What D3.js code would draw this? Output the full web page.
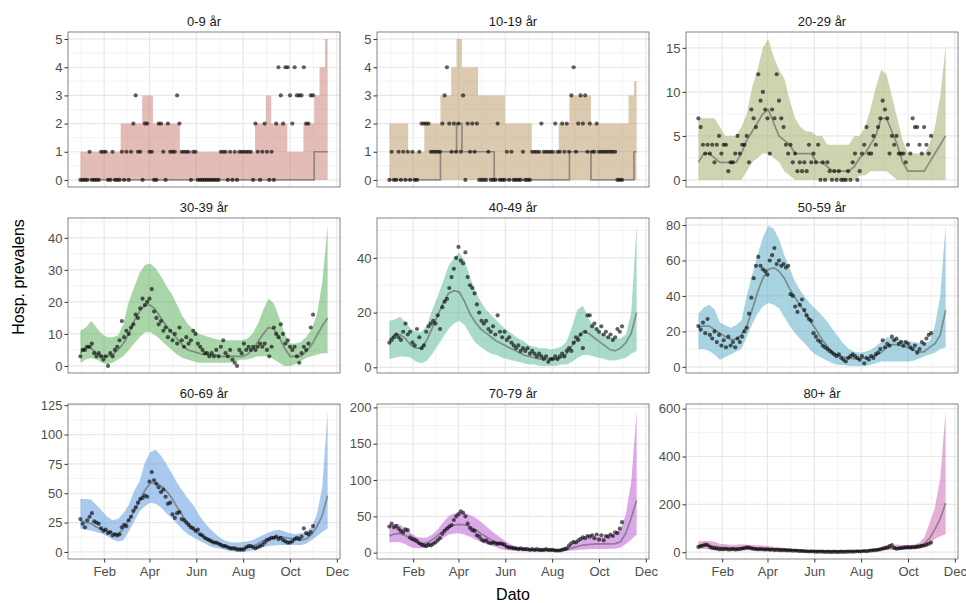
<!DOCTYPE html>
<html>
<head>
<meta charset="utf-8">
<script src="https://cdn.jsdelivr.net/npm/d3@7"></script>
<style>
  body { margin: 0; background: #fff; }
  text { font-family: "Liberation Sans", Arial, sans-serif; }
</style>
</head>
<body>
<div id="chart"></div>
<script>
// ---------- data ----------
var panelLabels = ["0-9 år", "10-19 år", "20-29 år", "30-39 år", "40-49 år", "50-59 år", "60-69 år", "70-79 år", "80+ år"];
var yTickValues = [[0, 1, 2, 3, 4, 5], [0, 1, 2, 3, 4, 5], [0, 5, 10, 15], [0, 10, 20, 30, 40], [0, 20, 40],
                   [0, 20, 40, 60, 80], [0, 25, 50, 75, 100, 125], [0, 50, 100, 150, 200], [0, 200, 400, 600]];
var xTickDates = ["2021-02-01", "2021-04-01", "2021-06-01", "2021-08-01", "2021-10-01", "2021-12-01"];
var xTickLabels = ["Feb", "Apr", "Jun", "Aug", "Oct", "Dec"];

// observed points: every 3rd day from pointStart
var pointStart = "2021-01-01", pointStepDays = 3;
// band (lower/upper) and median: weekly from bandStart
var bandStart = "2021-01-01", bandStepDays = 7;

var obs0 = [0,0,0,0,1,0,0,0,0,1, 1,1,0,0,1,0,0,0,1,0, 1,0,1,2,3,1,1,0,2,2, 1,1,0,0,2,2,1,0,2,1,
            1,1,3,2,1,1,1,1,0,1, 1,0,0,0,0,0,0,0,0,0, 0,1,1,1,0,1,0,1,0,1, 1,1,1,1,1,0,2,1,0,1,
            2,1,0,1,0,2,4,3,2,4, 4,3,2,4,3,3,3,4,2,2, 3,3];
var lo0  = [0,0,0,0,0,0,0,0,0,0, 0,0,0,0,0,0,0,0,0,0, 0,0,0,0,0,0,0,0,0,0, 0,0,0,0,0,0,0,0,0,0, 0,0,0,0,0,0,0];
var hi0  = [1,1,1,1,1,1,1,1,2,2, 2,2,3,3,2,2,2,2,2,1, 1,1,1,1,1,1,1,1,1,1, 1,1,1,2,2,3,2,2,2,1, 1,1,2,2,3,4,5];
var med0 = [0,0,0,0,0,0,0,0,0,0, 0,0,0,0,0,0,0,0,0,0, 0,0,0,0,0,0,0,0,0,0, 0,0,0,0,0,0,0,0,0,0, 0,0,0,0,1,1,1];

var obs1 = [0,1,0,0,1,0,1,0,1,0, 1,0,0,1,2,2,2,2,1,1, 1,1,1,2,3,4,2,1,2,1, 2,1,3,0,2,1,2,1,2,0,
            0,0,0,1,0,0,0,2,0,0, 0,1,0,1,0,0,0,0,1,0, 0,0,1,1,1,1,2,1,1,1, 1,1,2,1,1,2,1,2,1,3,
            4,1,2,3,2,3,1,2,1,1, 2,1,1,1,1,1,1,1,1,0, 0,0];
var lo1  = [0,0,0,0,0,0,0,0,0,0, 0,0,0,0,0,0,0,0,0,0, 0,0,0,0,0,0,0,0,0,0, 0,0,0,0,0,0,0,0,0,0, 0,0,0,0,0,0,0];
var hi1  = [2,2,2,2,1,1,1,2,2,2, 3,3,4,5,4,4,4,3,3,3, 3,3,2,2,2,2,2,1,1,1, 1,1,2,2,3,3,3,3,2,2, 2,2,2,2,2,3,3.5];
var med1 = [0,0,0,0,0,0,0,0,0,0, 1,1,1,2,1,1,1,1,1,1, 0,0,0,0,0,0,0,0,0,0, 0,0,0,0,1,1,1,1,0,0, 0,0,0,0,0,0,1];

var obs2 = [7,6,4,3,4,3,4,2,4,5, 3,4,4,1,2,2,3,5,3,4, 4,5,2,8,7,6,12,9,10,8, 7,3,8,7,12,9,7,6,4,3,
            4,2,3,1,2,1,2,1,4,2, 3,2,4,0,2,0,2,1,0,1, 0,1,0,0,0,1,0,2,3,0, 1,3,4,6,3,3,5,4,6,7,
            9,8,7,3,5,4,5,3,3,3, 2,4,3,7,6,6,4,3,6,4, 3,5];
var lo2  = [0,0,0,0,0,0,0,0,0,1, 2,2.5,3,3,2.5,2,1,0.5,0,0, 0,0,0,0,0,0,0,0,0,0, 0.5,0.5,1,1,1,1,0.5,0,0,0, 0,0,0,0,0,0,0];
var hi2  = [7,7,7,7,6,5,5,5,6,7.5, 10.5,12.5,15,16,14,12.5,11.5,9,7,6, 5.5,5.5,5,5,4,4,4,4,4,5, 5,6,8,10.5,12.5,12,9.5,7,4.5,3, 3,3,3,4,6,9.5,15.3];
var med2 = [2,3,3,2.5,2,2,2,2,3,4.5, 5.5,6.5,7.5,8,6.5,5,4.5,4,3,3, 3,3,2,2,1.5,1,1,1,1,1.5, 2.5,3,4,5,7,7,5.5,4,2,1, 1,1,1,2,3,4,5];

var obs3 = [3,5,5,6,6,7,4,3,4,3, 2,3,0,4,3,5,6,8,14,9, 11,10,12,13,16,15,18,21,19,20, 21,24,17,15,13,14,11,12,9,11,
            8,10,7,12,8,6,9,7,8,11, 10,7,6,5,4,4,3,4,3,5, 3,6,8,4,3,5,2,1,0,5, 4,7,5,6,5,6,5,6,7,6,
            7,5,3,6,12,10,9,13,10,7, 8,6,5,6,3,1,4,6,5,7, 12,16];
var lo3  = [1,2,2.5,2,1,0.5,1,2,3,5, 7,9,10.5,10.5,9.5,8,6.5,5,3.5,2.5, 2,1.5,1,1,1,1,1,1,1,1.5, 2,2,2.5,3,3,3,2,1,0,0, 0.5,1.5,2.5,3,3.5,4,4];
var hi3  = [11,12,14,12,10,9,9,9.5,13,20, 24.5,29,31.5,32,30.5,28,25,22.5,19,15.5, 13,11.5,10,9.5,9,8.5,8,8,8,8, 8,8.5,10,13,17.5,21,19.5,15,10,7, 7,7.5,9,11.5,16,26,44];
var med3 = [4,6,5.5,4,3,3,3.5,5,7,10, 14,17,19,19,17.5,15,12.5,10.5,8.5,6.5, 5,4.5,4,3.5,3.5,3.5,3,3,3,3, 3,3.5,5,7.5,10,12,11.5,9,5.5,3, 3,3,4.5,6.5,9.5,12.5,15];

var obs4 = [9,10,11,12,11,10,13,16,12,13, 9,8,14,11,7,8,13,15,16,17, 16,19,14,22,24,25,29,33,36,40, 44,39,38,42,33,30,29,27,23,20,
            17,16,17,14,13,15,12,19,13,11, 13,10,11,9,8,7,8,6,7,6, 7,5,6,5,4,5,4,3,4,2, 3,3,4,3,4,5,4,6,7,6,
            9,11,10,12,7,13,19,19,15,16, 14,13,15,12,13,11,12,10,11,14, 13,15];
var lo4  = [3,3.5,4,4,3.5,2,1.5,2.5,5,8, 11,14,16,17,15.5,12,9,7.5,6,5, 4.5,3.5,3,2.5,2,1.5,1,1,0.5,0.5, 0.5,0.5,1,1,2,3.5,4.5,4.5,4,3.5, 3,2.5,2.5,3,3.5,5,6];
var hi4  = [17,17.5,18.5,16.5,14,13,13,15.5,21,26, 31.5,37,40,42,39,33,28,24,21,19, 17,15,13.5,12,10.5,9.5,8,7.5,7,7, 6.5,7,7.5,9.5,15,21,22.5,18,15,13, 12,11,10.5,10.5,12,20,52];
var med4 = [10,12,12,10.5,8,7,7,10,14.5,19, 23.5,27,28,27.5,24,19.5,16.5,14,12.5,11, 9.5,8.5,7.5,6.5,5.5,4.5,4,3.5,3,3, 3,3,3.5,5,8,10.5,13,12.5,11,9.5, 8,6.5,6,7,9,12.5,20];

var obs5 = [23,21,25,19,27,18,16,20,14,18, 12,15,11,17,12,14,11,16,14,17, 20,22,30,39,50,57,62,57,55,54, 52,60,63,67,58,60,57,58,56,57,
            41,40,34,31,35,38,32,29,27,26, 19,17,15,14,12,11,10,9,8,7, 6,7,5,4,3,5,6,7,6,5, 4,6,2,5,4,6,5,7,8,10,
            15,11,13,12,17,15,16,13,14,12, 14,13,11,10,12,8,10,14,13,16, 18,19];
var lo5  = [10,10,9,7,4,5.5,7,8.5,10,17, 24,30,34,36,35,33,28,23,19,15.5, 12.5,9,6.5,5,3.5,2,1,1,0.5,0.5, 0.5,0.5,1,2,3,3,3,3,3,3, 3.5,4.5,6,7,8,10,11];
var hi5  = [30,33.5,35,32.5,25,23.5,22,23.5,26,40, 52,63,73,79.5,78,72,63,55.5,48,43, 38.5,35,32,29,25.5,21,17,13,10,8.5, 8,8.5,9.5,11.5,14,16.5,16.5,15.5,15,14.5, 14,13.5,13,14.5,23,40,80];
var med5 = [22.5,23,23,21,19,17,15.5,15.5,18,23, 32,42,50,55,56,54,50,44,39,34.5, 30,25,20.5,15.5,11.5,8,6.5,5.5,5,4.5, 4.5,5,5.5,6.5,8,11,12.5,12.5,11.5,11, 9.5,8.5,8.5,11,13,18,32];

var obs6 = [28,24,21,27,30,33,26,25,24,20, 18,19,16,17,14,15,14,15,21,23, 22,27,30,35,38,42,45,46,48,47, 60,68,61,58,55,51,53,47,41,42,
            32,29,33,34,28,27,25,23,21,20, 18,19,15,14,12,11,10,9,8,8, 7,6,5,5,4,3,3,3,2,2, 2,2,4,5,5,4,3,4,5,6,
            8,10,11,12,12,13,11,12,10,9, 8,8,9,11,12,11,13,20,16,15, 17,22];
var lo6  = [20,19,18.3,17,15.4,13.5,10.3,9,10,17.5, 26,34.5,39,42,41,38,33,29,24,19, 15,12.5,10,7.7,5,3.5,3,1.5,0.8,0.3, 0,0.5,1,2.5,4,5,5.5,6,6,6, 6,6,7,10,13.5,17,20];
var hi6  = [45,45,44.5,40,35,30,27,28,33,40, 52,60,76,85,87,82,75,67,59,52, 45.5,40,32,25.5,20.5,16,12,9.5,8.3,8, 8.3,9,10,12,14.5,16.5,18,19,17.5,16, 15.3,16,17,21,32,55,120];
var med6 = [27,25.2,24.2,21,19.5,17.7,16.1,15.2,19.5,27.5, 34.5,44,52.5,58.5,58.5,56.5,52,46,38,31, 24.5,19.5,15.5,12.5,9.7,8,7,5,4,3.3, 3,3.8,4.9,6.8,9.5,11.3,12,13,12.3,11.5, 10.7,10,11,15,21.5,31,48];

var obs7 = [36,40,35,37,33,30,28,32,31,21, 19,18,16,13,11,10,9,11,10,12, 14,17,20,26,30,33,36,38,45,50, 53,57,55,50,40,34,31,30,24,22,
            18,16,17,14,13,14,13,12,13,12, 11,8,7,7,6,6,5,6,5,5, 5,4,5,4,5,4,4,4,5,4, 4,4,3,3,3,4,5,6,10,13,
            15,14,17,19,21,20,23,22,24,20, 25,18,24,17,23,22,25,23,28,27, 33,42];
var lo7  = [14,14.8,14.3,11.5,7.5,6,6,7,11,16.5, 20,25,26.5,26.7,25.2,22,18.3,15,12,9.5, 7,4.5,3.5,2.5,2,1.7,1.2,1,1,1, 1,1.2,1.6,2,3,3.7,4.3,4.6,5,5, 5,5.3,5.5,7,12,18,25];
var hi7  = [38,39.5,38.5,33,27,22,20.5,21,25,32, 42,50,54,55,54.5,52,48,42.5,36.5,30, 24.5,19,14,10,7.5,6,5,5,5,5, 5,5,5.7,8,11.7,15.6,19,20.5,21.5,22, 22,23,27,32,53,98,195];
var med7 = [23,26,26.5,23.5,18,14,12.3,13.5,18,23.5, 30,34.5,38,39,38.5,36,32,26.5,22,17.5, 14,11,8,6,5.2,4.5,3.7,3.3,3.2,3, 3,3,3.3,4,6.7,8.5,10.5,11.2,11.7,12, 12,12,12.5,15,27,48,72];

var obs8 = [22,25,28,32,30,22,18,16,15,12, 13,12,14,11,12,13,11,12,13,15, 17,20,19,16,14,13,12,13,12,11, 12,10,11,9,10,9,8,9,8,7,
            8,6,7,6,5,5,4,4,3,4, 3,2,2,3,2,1,2,1,1,2, 1,1,2,1,2,2,3,2,3,4, 3,4,5,4,6,7,8,9,10,12,
            15,18,20,25,30,18,14,16,17,19, 20,21,20,22,21,23,24,26,28,31, 35,40];
var lo8  = [15,13.5,12,10.5,9.5,8.8,8.2,8,8,8, 7.8,7.2,6.8,6.3,5.8,5.4,5,4.4,3.9,3.3, 2.8,2.3,2,2,2,2,2,2,2,2.7, 3.8,4.8,5.8,6.9,7.8,8.4,9,9.5,10,10.7, 11.5,13,20,35,55,67,75];
var hi8  = [45,47,47,44,35,33,31,31,33,31, 30,29,28,26,23,21,18,15,13,11, 9.5,8.2,7,6.6,6.2,6,6,6,6.5,6.8, 8,10,12,16.5,20.5,26,30.5,32,30.5,30, 30,38,60,120,186,310,590];
var med8 = [25,28.5,28,24,21,19.5,18.3,18,18,18, 17,16.2,15.3,14.7,13.4,12.5,11.7,10.5,9,8, 6.5,5.5,5,4.8,4.6,4.5,4.3,4.2,4,4.5, 5.2,6,7.5,10,12,15,18,18,18,18.5, 19.5,24,35,57,95,140,205];

// ---------- style ----------
var bandColors = ["#c7796f", "#b99561", "#9fa761", "#53ad53", "#53b597", "#51a7c1", "#5393df", "#b751d5", "#cd5fb1"];
var steppedPanels = [0, 1];

// ---------- layout ----------
var W = 966, H = 603;
var left0 = 68, top0 = 32, pw = 272, ph = 155, gapX = 37, gapY = 31;

var parse = d3.utcParse("%Y-%m-%d");
function dateSeq(start, step, n) {
    return d3.range(n).map(function (i) { return d3.utcDay.offset(parse(start), i * step); });
}

var panels = [
    { obs: obs0, lo: lo0, hi: hi0, med: med0 }, { obs: obs1, lo: lo1, hi: hi1, med: med1 },
    { obs: obs2, lo: lo2, hi: hi2, med: med2 }, { obs: obs3, lo: lo3, hi: hi3, med: med3 },
    { obs: obs4, lo: lo4, hi: hi4, med: med4 }, { obs: obs5, lo: lo5, hi: hi5, med: med5 },
    { obs: obs6, lo: lo6, hi: hi6, med: med6 }, { obs: obs7, lo: lo7, hi: hi7, med: med7 },
    { obs: obs8, lo: lo8, hi: hi8, med: med8 }
];

var svg = d3.select("#chart").append("svg")
    .attr("width", W).attr("height", H)
    .style("background", "#fff");

// shared x scale (facets only free in y)
var allDates = [];
panels.forEach(function (p) {
    p.obsDates = dateSeq(pointStart, pointStepDays, p.obs.length);
    p.bandDates = dateSeq(bandStart, bandStepDays, p.lo.length);
    allDates = allDates.concat(p.obsDates, p.bandDates);
});
var xExt = d3.extent(allDates);
var xPad = (xExt[1] - xExt[0]) * 0.05;
var x = d3.scaleUtc()
    .domain([new Date(+xExt[0] - xPad), new Date(+xExt[1] + xPad)])
    .range([0, pw]);

var xMajor = xTickDates.map(parse);
var xMinor = [];
var xStep0 = xMajor[1] - xMajor[0];
xMinor.push(new Date(+xMajor[0] - xStep0 / 2));
for (var i = 1; i < xMajor.length; i++) xMinor.push(new Date((+xMajor[i - 1] + +xMajor[i]) / 2));
xMinor.push(new Date(+xMajor[xMajor.length - 1] + xStep0 / 2));
xMinor = xMinor.filter(function (d) { return d >= x.domain()[0] && d <= x.domain()[1]; });

panels.forEach(function (p, idx) {
    var col = idx % 3, row = Math.floor(idx / 3);
    var g = svg.append("g")
        .attr("transform", "translate(" + (left0 + col * (pw + gapX)) + "," + (top0 + row * (ph + gapY)) + ")");

    var allVals = p.obs.concat(p.lo, p.hi, p.med);
    var yExt = d3.extent(allVals);
    var yPad = (yExt[1] - yExt[0]) * 0.05;
    var y = d3.scaleLinear().domain([yExt[0] - yPad, yExt[1] + yPad]).range([ph, 0]);

    var ticks = yTickValues[idx];
    var yStep = ticks[1] - ticks[0];
    var yMinor = [ticks[0] - yStep / 2];
    for (var j = 1; j < ticks.length; j++) yMinor.push((ticks[j - 1] + ticks[j]) / 2);
    yMinor.push(ticks[ticks.length - 1] + yStep / 2);
    yMinor = yMinor.filter(function (v) { return v >= y.domain()[0] && v <= y.domain()[1]; });

    // background + grid
    g.append("rect").attr("width", pw).attr("height", ph).attr("fill", "#fff");
    g.selectAll("line.xminor").data(xMinor).enter().append("line")
        .attr("x1", function (d) { return x(d); }).attr("x2", function (d) { return x(d); })
        .attr("y1", 0).attr("y2", ph)
        .attr("stroke", "#ebebeb").attr("stroke-width", 0.6);
    g.selectAll("line.yminor").data(yMinor).enter().append("line")
        .attr("x1", 0).attr("x2", pw)
        .attr("y1", function (d) { return y(d); }).attr("y2", function (d) { return y(d); })
        .attr("stroke", "#ebebeb").attr("stroke-width", 0.6);
    g.selectAll("line.xmajor").data(xMajor).enter().append("line")
        .attr("x1", function (d) { return x(d); }).attr("x2", function (d) { return x(d); })
        .attr("y1", 0).attr("y2", ph)
        .attr("stroke", "#e8e8e8").attr("stroke-width", 1.2);
    g.selectAll("line.ymajor").data(ticks).enter().append("line")
        .attr("x1", 0).attr("x2", pw)
        .attr("y1", function (d) { return y(d); }).attr("y2", function (d) { return y(d); })
        .attr("stroke", "#e8e8e8").attr("stroke-width", 1.2);

    var curve = steppedPanels.indexOf(idx) >= 0 ? d3.curveStep : d3.curveLinear;
    var band = p.bandDates.map(function (d, k) {
        return { date: d, lo: p.lo[k], hi: p.hi[k], med: p.med[k] };
    });

    // ribbon
    g.append("path").datum(band)
        .attr("d", d3.area()
            .x(function (d) { return x(d.date); })
            .y0(function (d) { return y(d.lo); })
            .y1(function (d) { return y(d.hi); })
            .curve(curve))
        .attr("fill", bandColors[idx]).attr("fill-opacity", 0.5);

    // median
    g.append("path").datum(band)
        .attr("d", d3.line()
            .x(function (d) { return x(d.date); })
            .y(function (d) { return y(d.med); })
            .curve(curve))
        .attr("fill", "none").attr("stroke", "#666").attr("stroke-opacity", 0.65)
        .attr("stroke-width", 1.7);

    // observations
    g.selectAll("circle").data(p.obs).enter().append("circle")
        .attr("cx", function (d, k) { return x(p.obsDates[k]); })
        .attr("cy", function (d) { return y(d); })
        .attr("r", 2.1)
        .attr("fill", "#000").attr("fill-opacity", 0.62);

    // border
    g.append("rect").attr("width", pw).attr("height", ph)
        .attr("fill", "none").attr("stroke", "#333").attr("stroke-width", 0.6);

    // y axis
    var ya = g.append("g").call(d3.axisLeft(y).tickValues(ticks)
        .tickFormat(function (d) { return String(d); })
        .tickSize(3.5).tickSizeOuter(0).tickPadding(2));
    ya.select(".domain").remove();
    ya.selectAll(".tick line").attr("stroke", "#333");
    ya.selectAll(".tick text").attr("fill", "#4d4d4d").style("font-size", "13px")
        .style("font-family", "'Liberation Sans', Arial, sans-serif");

    // x axis on bottom row
    if (row === 2) {
        var xa = g.append("g").attr("transform", "translate(0," + ph + ")")
            .call(d3.axisBottom(x).tickValues(xMajor)
                .tickFormat(function (d, k) { return xTickLabels[k]; })
                .tickSize(3.5).tickSizeOuter(0).tickPadding(4));
        xa.select(".domain").remove();
        xa.selectAll(".tick line").attr("stroke", "#333");
        xa.selectAll(".tick text").attr("fill", "#4d4d4d").style("font-size", "13px")
            .style("font-family", "'Liberation Sans', Arial, sans-serif");
    }

    // strip label
    g.append("text").attr("x", pw / 2).attr("y", -6.5)
        .attr("text-anchor", "middle").attr("fill", "#1a1a1a")
        .style("font-size", "13px").text(panelLabels[idx]);
});

// axis titles
svg.append("text")
    .attr("transform", "translate(24,277) rotate(-90)")
    .attr("text-anchor", "middle").attr("fill", "#000")
    .style("font-size", "16px").text("Hosp. prevalens");
svg.append("text")
    .attr("x", left0 + (3 * pw + 2 * gapX) / 2).attr("y", 600)
    .attr("text-anchor", "middle").attr("fill", "#000")
    .style("font-size", "16px").text("Dato");
</script>
</body>
</html>
